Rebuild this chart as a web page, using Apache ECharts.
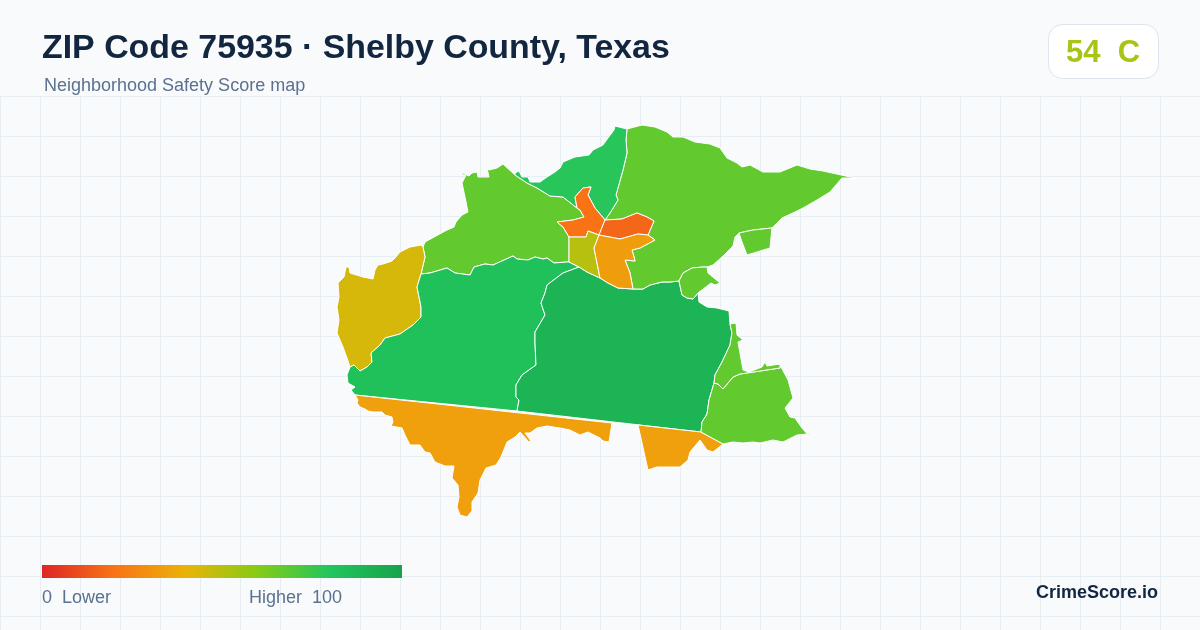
<!DOCTYPE html>
<html>
<head>
<meta charset="utf-8">
<title>ZIP Code 75935</title>
<style>
  html, body { margin: 0; padding: 0; background: #f8fafc; }
  #container { width: 1200px; height: 630px; }
</style>
<script src="https://cdn.jsdelivr.net/npm/echarts@6/dist/echarts.min.js"></script>
</head>
<body>
<div id="container"></div>
<script>
const nwArea = [[460,172],[463,175],[466,175],[462,183],[465,197],[468,212],[462,215],[456,222],[454,227],[445,231],[436,236],[425,242],[423,247],[425,257],[421,274],[430,273],[447,268],[455,273],[470,275],[474,267],[485,264],[493,265],[513,256],[517,259],[528,260],[535,257],[543,259],[547,258],[554,263],[567,262],[569,262],[569,237],[563,227],[557,222],[573,220],[584,217],[580,210],[577,208],[563,197],[550,196],[537,188],[527,183],[515,175],[503,164],[497,168],[489,170],[487,168],[489,177],[478,177],[477,172],[472,173],[469,176],[465,174]];
const westArea = [[421,245],[410,247],[400,252],[395,258],[392,261],[383,264],[378,265],[375,270],[373,279],[363,277],[350,273],[349,267],[346,267],[344,277],[338,283],[339,297],[337,307],[339,320],[337,333],[343,347],[347,358],[350,367],[354,365],[360,371],[367,367],[372,362],[371,353],[380,345],[385,338],[400,334],[413,325],[421,317],[421,307],[417,287],[421,274],[425,257],[423,247]];
const midWestArea = [[421,274],[430,273],[447,268],[455,273],[470,275],[474,267],[485,264],[493,265],[513,256],[517,259],[528,260],[535,257],[543,259],[547,258],[554,263],[567,262],[569,262],[579,267],[563,273],[547,285],[545,293],[541,303],[545,315],[535,332],[535,343],[536,365],[522,375],[516,385],[516,397],[519,400],[517,411],[355,395],[351,390],[355,387],[348,383],[347,375],[350,367],[354,365],[360,371],[367,367],[372,362],[371,353],[380,345],[385,338],[400,334],[413,325],[421,317],[421,307],[417,287]];
const centralArea = [[579,267],[587,272],[600,278],[608,283],[618,288],[633,289],[643,289],[650,285],[662,282],[670,282],[679,281],[682,295],[687,298],[693,299],[698,293],[699,302],[707,307],[717,308],[729,311],[730,324],[732,333],[730,345],[722,362],[715,375],[714,383],[709,400],[707,414],[702,422],[701,432],[517,411],[519,400],[516,397],[516,385],[522,375],[536,365],[535,343],[535,332],[545,315],[541,303],[545,293],[547,285],[563,273]];
const southArea = [[355,395],[612,423],[609,442],[603,441],[600,438],[588,432],[580,435],[570,430],[560,428],[547,426],[537,428],[530,433],[525,433],[531,441],[529,442],[520,432],[515,437],[507,442],[501,457],[496,465],[486,468],[480,480],[478,493],[472,502],[472,511],[467,517],[460,515],[457,507],[459,497],[458,485],[452,478],[454,466],[445,466],[435,462],[430,453],[425,452],[420,445],[410,445],[405,435],[402,428],[391,426],[393,422],[392,417],[385,415],[382,412],[373,412],[368,411],[365,409],[360,407],[357,403],[358,400]];
const southEastArea = [[638,425],[701,432],[723,444],[713,452],[707,450],[700,440],[690,452],[688,460],[680,467],[657,467],[648,470]];
const cornerArea = [[701,432],[723,444],[733,442],[743,443],[753,442],[760,443],[773,440],[783,442],[797,435],[808,434],[817,433],[808,435],[808,434],[802,428],[795,418],[790,417],[785,408],[793,398],[788,380],[780,365],[780,368],[740,374],[733,377],[723,389],[718,384],[714,383],[709,400],[707,414],[702,422]];
const stripArea = [[730,324],[736,323],[737,335],[743,340],[738,342],[743,370],[749,372],[762,367],[765,362],[767,366],[780,364],[780,368],[740,374],[733,377],[723,389],[718,384],[714,383],[715,375],[722,362],[730,345],[732,333]];
const northEastArea = [[627,129],[642,125],[655,127],[667,132],[673,137],[683,137],[695,142],[710,144],[720,148],[727,158],[737,163],[742,167],[750,165],[763,172],[780,172],[797,165],[810,169],[823,171],[855,178],[842,178],[830,192],[817,200],[803,208],[795,212],[782,218],[772,228],[753,230],[739,233],[735,237],[733,246],[722,257],[713,265],[707,267],[703,267],[692,268],[683,273],[679,281],[670,282],[662,282],[650,285],[643,289],[633,289],[630,273],[625,260],[635,261],[634,257],[632,250],[640,248],[655,240],[648,235],[654,221],[647,217],[637,213],[622,219],[605,220],[610,213],[618,200],[616,195],[623,170],[627,153],[626,140]];
const northArea = [[627,129],[615,126],[614,130],[608,138],[603,145],[593,150],[589,155],[575,157],[563,162],[560,168],[555,172],[547,177],[540,182],[530,182],[528,177],[522,177],[519,171],[515,173],[515,175],[527,183],[537,188],[550,196],[563,197],[577,208],[575,197],[583,188],[591,187],[588,195],[595,208],[605,220],[610,213],[618,200],[616,195],[623,170],[627,153],[626,140]];
const townWestArea = [[575,197],[583,188],[591,187],[588,195],[595,208],[605,220],[599,235],[588,231],[586,237],[569,237],[563,227],[557,222],[573,220],[584,217],[580,210],[577,208]];
const townEastArea = [[605,220],[622,219],[637,213],[647,217],[654,221],[648,235],[638,234],[620,239],[599,235]];
const townSouthWestArea = [[569,237],[586,237],[588,231],[599,235],[594,248],[600,278],[587,272],[579,267],[569,262]];
const townSouthArea = [[599,235],[620,239],[638,234],[648,235],[655,240],[640,248],[632,250],[634,257],[635,261],[625,260],[630,273],[633,289],[618,288],[608,283],[600,278],[594,248]];
const lobeArea = [[679,281],[683,273],[692,268],[703,267],[707,267],[708,273],[720,283],[715,285],[711,283],[698,293],[693,299],[687,298],[682,295]];
const islandArea = [[739,233],[753,230],[772,228],[770,248],[747,255],[742,242]];

const areaNames = ['nw', 'west', 'midwest', 'central', 'south', 'southeast', 'corner', 'strip', 'northeast', 'north', 'townwest', 'towneast', 'townsouthwest', 'townsouth', 'lobe', 'island'];
const areaRings = [nwArea, westArea, midWestArea, centralArea, southArea, southEastArea, cornerArea, stripArea, northEastArea, northArea, townWestArea, townEastArea, townSouthWestArea, townSouthArea, lobeArea, islandArea];
const areaScores = [67, 44, 83, 90, 34, 34, 67, 67, 67, 79, 20, 17, 50, 33, 67, 67];

const scaleColors = ['#dc2626', '#f97316', '#eab308', '#84cc16', '#22c55e', '#16a34a'];
const scoreText = '54  C';
const titleText = 'ZIP Code 75935 · Shelby County, Texas';
const subtitleText = 'Neighborhood Safety Score map';

const fontName = '"Liberation Sans", Arial, sans-serif';

let features = areaNames.map((name, i) => {
    let ring = areaRings[i].map(p => [p[0], -p[1]]);
    ring.push(ring[0]);
    return {
        type: 'Feature',
        properties: { name: name },
        geometry: { type: 'Polygon', coordinates: [ring] }
    };
});
echarts.registerMap('zip75935', { type: 'FeatureCollection', features: features });

// the visualMap bar has rounded ends, the legend here is a plain rectangle
let legendStops = scaleColors.map((c, i) => ({ offset: i / (scaleColors.length - 1), color: c }));

let myChart = echarts.init(document.getElementById('container'));
let option = {
    backgroundColor: '#f8fafc',
    animation: false,
    title: [
        {
            text: titleText, left: 42, top: 32, padding: 0,
            textStyle: { fontFamily: fontName, fontSize: 33.9, fontWeight: 'bold', color: '#12263f' }
        },
        {
            text: subtitleText, left: 44, top: 77, padding: 0,
            textStyle: { fontFamily: fontName, fontSize: 18, fontWeight: 'normal', color: '#5a7190' }
        }
    ],
    grid: { left: 0, top: 96, width: 1200, height: 534 },
    xAxis: {
        type: 'value', min: 0, max: 1200, interval: 40,
        axisLine: { show: false }, axisTick: { show: false }, axisLabel: { show: false },
        splitLine: { show: true, lineStyle: { color: '#e6eef3', width: 1 } }
    },
    yAxis: {
        type: 'value', min: 0, max: 534, interval: 40, inverse: true,
        axisLine: { show: false }, axisTick: { show: false }, axisLabel: { show: false },
        splitLine: { show: true, lineStyle: { color: '#e6eef3', width: 1 } }
    },
    visualMap: {
        type: 'continuous', min: 0, max: 100, show: false,
        inRange: { color: scaleColors }
    },
    series: [{
        type: 'map',
        map: 'zip75935',
        left: 0, top: 0, width: 1200, height: 630,
        aspectScale: 1,
        boundingCoords: [[0, 0], [1200, -630]],
        roam: false,
        silent: true,
        label: { show: false },
        emphasis: { disabled: true },
        itemStyle: { borderColor: '#ffffff', borderWidth: 1 },
        data: areaNames.map((name, i) => ({ name: name, value: areaScores[i] }))
    }],
    graphic: [
        {
            type: 'rect', left: 42, top: 565, z: 5,
            shape: { width: 360, height: 13 },
            style: { fill: new echarts.graphic.LinearGradient(0, 0, 1, 0, legendStops) }
        },
        {
            type: 'rect', left: 1048, top: 24, z: 5,
            shape: { width: 110, height: 54, r: 14 },
            style: { fill: '#ffffff', stroke: '#dde4ec', lineWidth: 1 }
        },
        {
            type: 'text', left: 1066, top: 38, z: 6,
            style: { text: scoreText, fill: '#a8c414', font: 'bold 31px ' + fontName }
        },
        {
            type: 'text', left: 42, top: 589, z: 6,
            style: { text: '0  Lower', fill: '#5a7190', font: '18px ' + fontName }
        },
        {
            type: 'text', left: 249, top: 589, z: 6,
            style: { text: 'Higher  100', fill: '#5a7190', font: '18px ' + fontName }
        },
        {
            type: 'text', right: 42, top: 584, z: 6,
            style: { text: 'CrimeScore.io', fill: '#12263f', font: 'bold 18px ' + fontName }
        }
    ]
};
myChart.setOption(option);
</script>
</body>
</html>
